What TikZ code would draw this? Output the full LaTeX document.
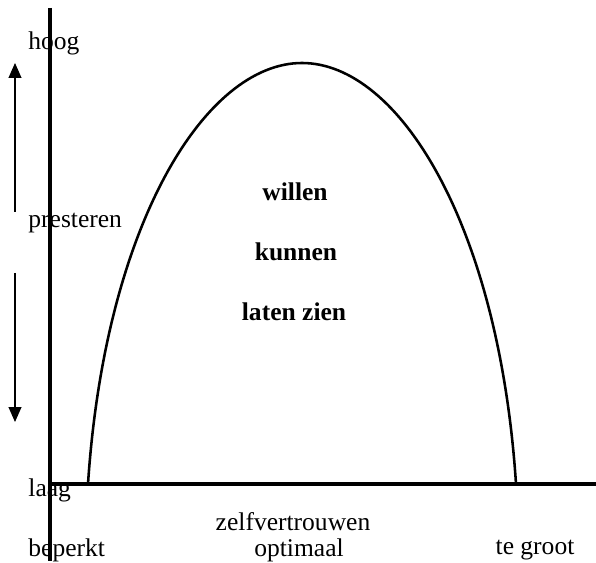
\documentclass[tikz,border=0pt]{standalone}
\usepackage{fontspec}
\setmainfont{Liberation Serif}
\usetikzlibrary{arrows.meta}
\begin{document}
\begin{tikzpicture}[x=0.47pt,y=-0.47pt,
  lbl/.style={font=\fontsize{12}{14}\selectfont, inner sep=0pt},
  bl/.style={font=\fontsize{12}{14}\selectfont\bfseries, inner sep=0pt},
  axis/.style={line width=1.5pt},
  curve/.style={line width=1.2pt},
  arr/.style={line width=0.7pt,-{Triangle[length=7pt,width=6pt]}}]
\useasboundingbox (0,0) rectangle (596,562);
% axes
\coordinate (vtop) at (50,8);
\coordinate (vbot) at (50,561);
\coordinate (hl) at (50,484);
\coordinate (hr) at (596,484);
\draw[axis] (vtop) -- (vbot);
\draw[axis] (hl) -- (hr);
% curve
\coordinate (cl) at (88,484);
\coordinate (ct) at (302,63);
\coordinate (cr) at (516,484);
\draw[curve] (cl) .. controls (105,225) and (205,63) .. (ct)
  .. controls (399,63) and (499,225) .. (cr);
% arrows
\coordinate (a1s) at (15,212);
\coordinate (a1e) at (15,63);
\coordinate (a2s) at (15,273);
\coordinate (a2e) at (15,422);
\draw[arr] (a1s) -- (a1e);
\draw[arr] (a2s) -- (a2e);
% labels
\node[lbl,anchor=west] (hoog) at (28,43) {hoog};
\node[lbl,anchor=west] (pres) at (28,223) {presteren};
\node[lbl,anchor=west] (laag) at (28,490) {laag};
\node[lbl,anchor=west] (bep) at (28,550) {beperkt};
\node[lbl] (zelf) at (293,522) {zelfvertrouwen};
\node[lbl] (opt) at (299,550) {optimaal};
\node[lbl] (tg) at (535,550) {te groot};
\node[bl] (w) at (295,192) {willen};
\node[bl] (k) at (296,252) {kunnen};
\node[bl] (lz) at (294,312) {laten zien};
\end{tikzpicture}
\end{document}
